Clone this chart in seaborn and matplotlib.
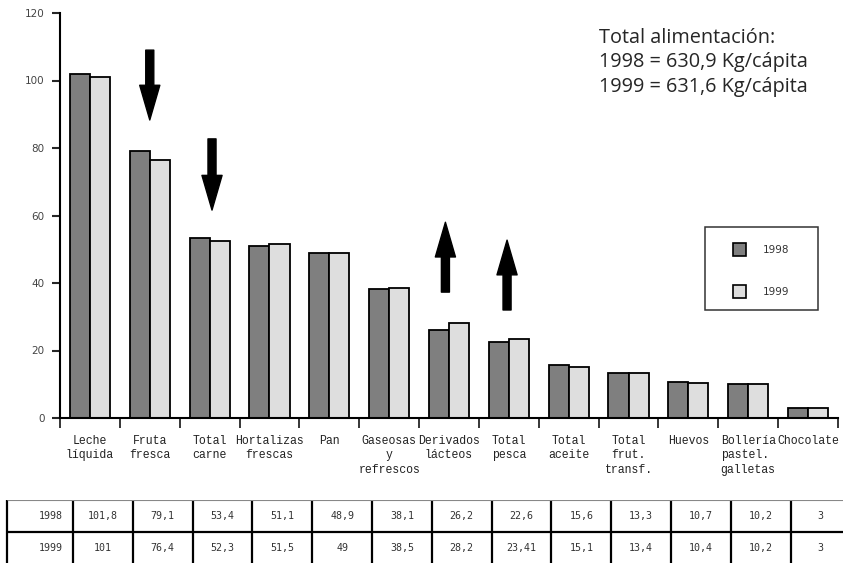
import numpy as np
import pandas as pd
import matplotlib
matplotlib.use("Agg")
import matplotlib.pyplot as plt
from matplotlib.patches import Patch, Rectangle
import seaborn as sns

# Consumption per capita (kg) by food group
categories = ["Leche\nlíquida", "Fruta\nfresca", "Total\ncarne", "Hortalizas\nfrescas",
              "Pan", "Gaseosas\ny\nrefrescos", "Derivados\nlácteos", "Total\npesca",
              "Total\naceite", "Total\nfrut.\ntransf.", "Huevos",
              "Bollería\npastel.\ngalletas", "Chocolate"]
years = ["1998", "1999"]
v1998 = [101.8, 79.1, 53.4, 51.1, 48.9, 38.1, 26.2, 22.6, 15.6, 13.3, 10.7, 10.2, 3]
v1999 = [101, 76.4, 52.3, 51.5, 49, 38.5, 28.2, 23.41, 15.1, 13.4, 10.4, 10.2, 3]
yticks = [0, 20, 40, 60, 80, 100, 120]
summary = "Total alimentación:\n1998 = 630,9 Kg/cápita\n1999 = 631,6 Kg/cápita"

# trend arrows: (category position, start value, end value)
arrows = [(1.0, 109, 88.3), (2.04, 82.7, 61.6), (5.94, 37.3, 58.0), (6.97, 32.0, 52.7)]

dark, light = "#7f7f7f", "#dedede"

df = pd.DataFrame({
    "cat": categories * 2,
    "year": [years[0]] * len(categories) + [years[1]] * len(categories),
    "value": v1998 + v1999,
})

sns.set_style("white")
plt.rcParams["font.family"] = ["DejaVu Sans"]

W, H = 843, 563
fig = plt.figure(figsize=(W / 100, H / 100), dpi=100)

def px(x0, y0, x1, y1):
    return [x0 / W, 1 - y1 / H, (x1 - x0) / W, (y1 - y0) / H]

ax = fig.add_axes(px(60, 13, 838, 418))
sns.barplot(data=df, x="cat", y="value", hue="year", order=categories,
            hue_order=years, palette=[dark, light], width=0.67, gap=0,
            saturation=1, edgecolor="black", linewidth=1.3, legend=False, ax=ax)

ax.set_xlim(-0.5, len(categories) - 0.5)
ax.set_ylim(0, 120)
ax.set_xlabel("")
ax.set_ylabel("")
for s in ["top", "right"]:
    ax.spines[s].set_visible(False)
for s in ["left", "bottom"]:
    ax.spines[s].set_linewidth(1.5)
    ax.spines[s].set_color("black")

ax.set_yticks(yticks)
ax.set_yticklabels([str(t) for t in yticks], fontsize=7.5, color="#444444")
ax.tick_params(axis="y", direction="out", length=6, width=1.5, pad=5, left=True)

# category boundaries as major ticks, names as minor ticks
ax.set_xticks(np.arange(-0.5, len(categories)), labels=[])
ax.tick_params(axis="x", which="major", direction="out", length=7.5, width=1.3, bottom=True)
ax.set_xticks(np.arange(len(categories)), minor=True)
ax.set_xticklabels(categories, minor=True, fontsize=8.3, family="Liberation Mono",
                   color="#222222", linespacing=1.3)
ax.tick_params(axis="x", which="minor", length=0, pad=12)
for lab in ax.get_xticklabels(minor=True):
    if lab.get_text().startswith("Boller"):
        lab.set_multialignment("left")

for x, y0, y1 in arrows:
    ax.annotate("", xy=(x, y1), xytext=(x, y0),
                arrowprops=dict(arrowstyle="simple,head_length=2.5,head_width=1.45,tail_width=0.58",
                                mutation_scale=10, color="black", shrinkA=0, shrinkB=0))

# legend box
fig.patches.append(Rectangle((705 / W, 1 - 310 / H), 113 / W, 83 / H,
                             transform=fig.transFigure, fill=False,
                             edgecolor="#333333", linewidth=1.1))
handles = [Patch(facecolor=dark, edgecolor="black", linewidth=1.2),
           Patch(facecolor=light, edgecolor="black", linewidth=1.2)]
fig.legend(handles, years, loc="upper left", bbox_to_anchor=(725 / W, 1 - 235 / H),
           frameon=False, fontsize=7.5, handlelength=1.25, handleheight=1.5,
           labelspacing=2.78, handletextpad=1.6, borderpad=0.3,
           labelcolor="#333333")

fig.text(599 / W, 1 - 28 / H, summary, fontsize=14.3, family="Open Sans",
         color="#262626", va="top", ha="left", linespacing=1.3)

# value table below the chart
tab = fig.add_axes(px(7, 500, 852, 564))
tab.set_xlim(7, 852)
tab.set_ylim(564, 500)
tab.axis("off")
col_w = 59.8
edges = [7] + [73 + i * col_w for i in range(len(categories) + 1)]
tab.vlines(edges, 500, 564, color="black", linewidth=1.6, clip_on=False)
tab.hlines(500, 7, 852, color="#888888", linewidth=0.8)
tab.hlines(532, 7, 852, color="black", linewidth=1.6)
for r, (yr, vals) in enumerate(zip(years, [v1998, v1999])):
    yc = 516 + r * 32
    tab.text(63, yc, yr, ha="right", va="center", fontsize=7.2,
             family="DejaVu Sans Mono", color="#333333")
    for i, v in enumerate(vals):
        tab.text(73 + (i + 0.5) * col_w, yc, f"{v:g}".replace(".", ","),
                 ha="center", va="center", fontsize=7.2,
                 family="DejaVu Sans Mono", color="#333333")

fig.savefig("out.png", dpi=100)
